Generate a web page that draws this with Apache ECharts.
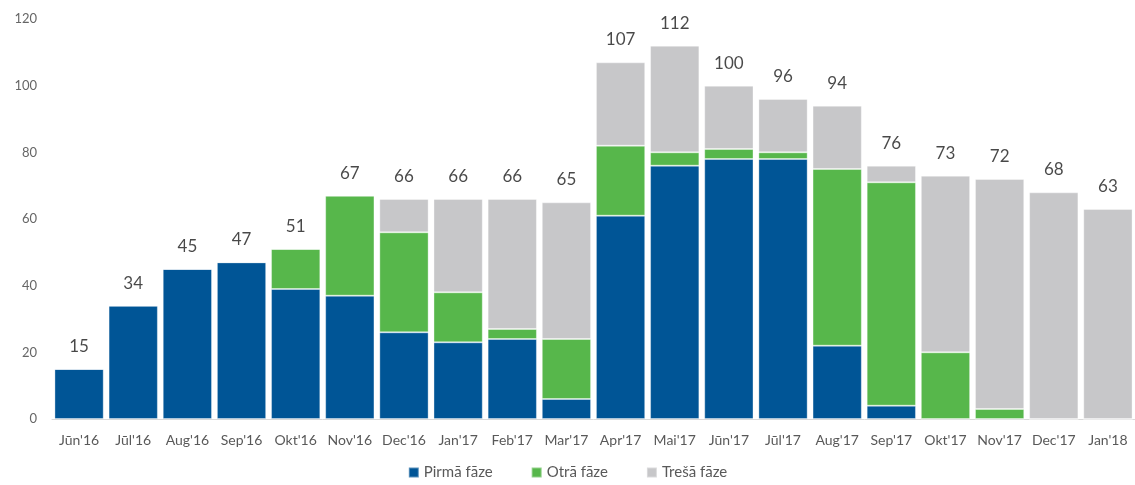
<!DOCTYPE html>
<html><head><meta charset="utf-8">
<script src="https://cdn.jsdelivr.net/npm/echarts@6/dist/echarts.min.js"></script>
<style>html,body{margin:0;padding:0;background:#fff}#c{width:1135px;height:485px}</style>
</head><body><div id="c"></div>
<script>
const categories = ["Jūn'16","Jūl'16","Aug'16","Sep'16","Okt'16","Nov'16","Dec'16","Jan'17","Feb'17","Mar'17","Apr'17","Mai'17","Jūn'17","Jūl'17","Aug'17","Sep'17","Okt'17","Nov'17","Dec'17","Jan'18"];
const pirma = [15,34,45,47,39,37,26,23,24,6,61,76,78,78,22,4,0,0,0,0];
const otra  = [0,0,0,0,12,30,30,15,3,18,21,4,3,2,53,67,20,3,0,0];
const tresa = [0,0,0,0,0,0,10,28,39,41,25,32,19,16,19,5,53,69,68,63];
const totals = [15,34,45,47,51,67,66,66,66,65,107,112,100,96,94,76,73,72,68,63];
const yTicks = [0,20,40,60,80,100,120];
const seriesNames = ["Pirmā fāze","Otrā fāze","Trešā fāze"];

const font = 'Lato, "Open Sans", sans-serif';
const chart = echarts.init(document.getElementById('c'));
const border = {borderColor:'rgba(255,255,255,0.35)', borderWidth:1};
chart.setOption({
  animation:false,
  textStyle:{fontFamily:font},
  grid:{left:52,right:-2,top:19,bottom:66},
  legend:{data:seriesNames, bottom:0, left:'center', itemWidth:10, itemHeight:10, itemGap:38, icon:'rect',
    textStyle:{color:'#595959', fontSize:15, fontFamily:font}},
  xAxis:{type:'category', data:categories,
    axisLine:{lineStyle:{color:'#d9d9d9', width:1}}, axisTick:{show:false},
    axisLabel:{color:'#595959', fontSize:14, margin:14, interval:0, fontFamily:font}},
  yAxis:{type:'value', min:0, max:120, interval:20,
    splitLine:{show:false}, axisLine:{show:false}, axisTick:{show:false},
    axisLabel:{color:'#666', fontSize:13, margin:15, fontFamily:font,
      formatter:v=> yTicks.includes(v)? String(v):''}},
  series:[
    {name:seriesNames[0], type:'bar', stack:'a', data:pirma, barCategoryGap:'9%', itemStyle:Object.assign({color:'#005596'},border)},
    {name:seriesNames[1], type:'bar', stack:'a', data:otra, itemStyle:Object.assign({color:'#57B74B'},border)},
    {name:seriesNames[2], type:'bar', stack:'a', data:tresa, itemStyle:Object.assign({color:'#C7C7C9'},border)},
    {name:'Kopā', type:'scatter', data:totals, symbolSize:0, silent:true,
      label:{show:true, position:'top', distance:14, color:'#1a1a1a', fontSize:17, fontFamily:font}}
  ]
});
</script></body></html>
